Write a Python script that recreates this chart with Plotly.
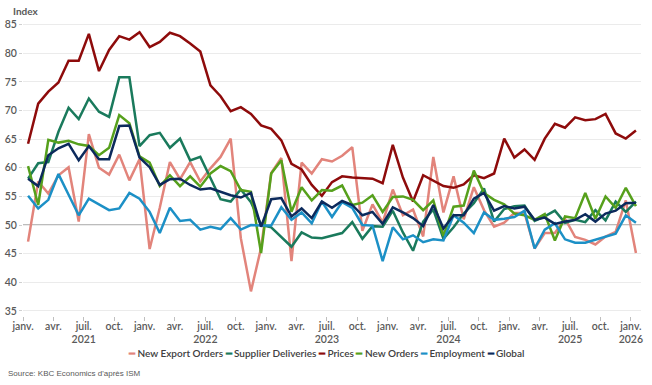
import plotly.graph_objects as go

# ---- data (monthly, janv. 2021 -> janv. 2026) ----
START_YEAR = 2021
N_MONTHS = 61
MONTH_ABBR = ["janv.", "févr.", "mars", "avr.", "mai", "juin",
              "juil.", "août", "sept.", "oct.", "nov.", "déc."]
MONTHS = [f"{MONTH_ABBR[i % 12]} {START_YEAR + i // 12}" for i in range(N_MONTHS)]

new_export_orders = [47.1, 57.6, 55.5, 58.7, 60.1, 50.6, 65.9, 60.0, 58.8, 62.3, 57.8, 61.5,
                     45.8, 53.0, 61.0, 58.0, 61.0, 57.6, 59.9, 61.9, 65.1, 47.7, 38.4, 46.0,
                     59.1, 61.7, 43.7, 60.9, 59.0, 61.5, 61.1, 62.1, 63.6, 49.0, 53.6, 50.4,
                     56.2, 51.7, 52.7, 48.0, 61.9, 52.2, 58.5, 51.0, 56.6, 52.6, 49.7, 50.4,
                     52.1, 52.1, 45.9, 48.6, 48.6, 51.1, 47.9, 47.4, 46.6, 48.0, 48.8, 54.3, 45.1]
supplier_deliveries = [58.1, 60.8, 61.0, 66.3, 70.5, 68.5, 72.1, 69.8, 68.9, 75.8, 75.8, 63.8,
                       65.7, 66.1, 63.5, 65.1, 61.3, 61.9, 58.2, 54.5, 54.1, 56.2, 54.0, 50.0,
                       49.6, 47.9, 46.2, 48.7, 47.8, 47.7, 48.1, 48.6, 50.5, 47.6, 49.8, 49.7,
                       52.5, 48.7, 45.5, 50.6, 52.7, 47.6, 49.6, 52.0, 53.8, 56.4, 50.6, 52.8,
                       53.3, 53.4, 50.7, 51.5, 52.5, 50.4, 50.9, 50.5, 52.6, 50.8, 54.1, 52.3, 54.1]
prices = [64.2, 71.2, 73.3, 74.9, 78.7, 78.7, 83.4, 76.9, 80.6, 83.0, 82.4, 83.7,
          81.1, 82.0, 83.6, 83.0, 81.7, 80.3, 74.4, 72.5, 69.9, 70.6, 69.4, 67.4,
          66.8, 64.8, 60.7, 59.7, 57.0, 55.1, 57.5, 58.5, 58.3, 58.2, 58.1, 57.3,
          64.0, 58.3, 54.1, 58.7, 57.7, 56.8, 56.5, 57.1, 58.7, 58.2, 59.0, 65.1,
          61.8, 63.2, 61.4, 65.1, 67.7, 67.0, 68.8, 68.3, 68.5, 69.4, 66.0, 65.1, 66.5]
new_orders = [60.3, 53.5, 64.9, 64.4, 64.7, 64.1, 63.8, 62.2, 63.5, 69.2, 67.8, 62.0,
              60.9, 56.8, 58.7, 56.8, 58.5, 56.7, 59.0, 60.3, 59.4, 56.1, 55.8, 45.1,
              59.0, 61.3, 52.3, 56.6, 54.3, 56.1, 56.0, 56.9, 53.5, 53.9, 55.2, 52.3,
              54.9, 55.0, 54.4, 52.6, 54.3, 48.1, 53.2, 53.4, 59.5, 55.6, 54.4, 53.6,
              52.0, 51.7, 50.9, 51.9, 47.3, 51.5, 51.2, 55.6, 51.1, 55.0, 53.0, 56.5, 53.3]
employment = [55.1, 52.9, 54.4, 58.9, 55.3, 51.7, 54.6, 53.6, 52.6, 52.9, 55.6, 54.6,
              52.3, 48.6, 53.0, 50.7, 50.9, 49.2, 49.7, 49.3, 51.2, 49.2, 50.0, 49.9,
              49.9, 53.1, 50.9, 52.2, 50.3, 54.1, 51.4, 54.0, 53.0, 50.0, 49.9, 43.7,
              49.6, 47.5, 48.2, 47.0, 47.5, 47.3, 51.7, 50.4, 48.6, 52.2, 50.9, 51.1,
              51.4, 52.5, 45.9, 49.2, 50.3, 47.5, 46.9, 46.9, 47.4, 48.0, 48.5, 51.7, 50.4]
global_index = [58.1, 56.8, 62.2, 63.4, 64.2, 61.3, 63.8, 61.5, 61.5, 67.3, 67.4, 61.8,
                60.1, 57.0, 58.0, 58.1, 57.0, 56.2, 56.4, 55.8, 55.2, 54.8, 55.6, 49.7,
                54.5, 54.7, 51.5, 52.9, 51.2, 54.1, 53.0, 54.2, 53.5, 51.7, 52.3, 50.2,
                53.1, 52.2, 51.2, 49.8, 53.5, 49.4, 51.7, 51.7, 54.6, 55.6, 52.5, 53.3,
                52.9, 53.2, 50.9, 51.3, 50.2, 50.6, 50.9, 51.9, 50.6, 52.0, 52.5, 53.8, 53.9]

SERIES_NAMES = ["New Export Orders", "Supplier Deliveries", "Prices",
                "New Orders", "Employment", "Global"]
SERIES_VALUES = [new_export_orders, supplier_deliveries, prices,
                 new_orders, employment, global_index]
SERIES_COLORS = ["#E2847B", "#1A7A5C", "#8E0B0B", "#56A01C", "#1C90C6", "#0C2A5C"]

NEUTRAL = 50
Y_TICKS = list(range(35, 90, 5))

# x-axis tick labels every 3 months at category boundaries, year under juil. (janv. for 2026)
tick_vals, tick_text = [], []
for i in range(0, N_MONTHS, 3):
    m = i % 12
    year = START_YEAR + i // 12
    label = MONTH_ABBR[m]
    if m == 6 or (i == N_MONTHS - 1):
        label += f"<br>{year}"
    tick_vals.append(i - 0.5)
    tick_text.append(label)

x = list(range(N_MONTHS))

fig = go.Figure()
for name, vals, color in zip(SERIES_NAMES, SERIES_VALUES, SERIES_COLORS):
    fig.add_trace(go.Scatter(
        x=x, y=vals, name=name, mode="lines",
        line=dict(color=color, width=2.5),
        customdata=MONTHS,
        hovertemplate="%{customdata}: %{y}<extra>" + name + "</extra>",
        showlegend=False,
    ))

fig.add_hline(y=NEUTRAL, line=dict(color="#a6a6a6", width=1.3), layer="below")

TICK_FONT = dict(family="Lato, 'Open Sans', sans-serif", size=10.5, color="#595959", weight=600)

fig.update_xaxes(
    range=[-0.5, N_MONTHS - 0.5],
    tickvals=tick_vals, ticktext=tick_text,
    ticks="outside", ticklen=4, tickcolor="#bfbfbf", tickwidth=1,
    showgrid=False, zeroline=False, showline=False,
    tickfont=TICK_FONT, tickangle=0, automargin=False,
    ticklabelstandoff=-4,
)
fig.update_yaxes(
    range=[34.1, 85.3],
    tickvals=Y_TICKS,
    ticks="outside", ticklen=3, tickcolor="#d0d0d0",
    showgrid=True, gridcolor="#ebebeb", gridwidth=1,
    zeroline=False, showline=False,
    tickfont=TICK_FONT, automargin=False,
)

legend_text = "&nbsp;".join(
    f"<span style='color:{c}'>━</span>&nbsp;{n}" for n, c in zip(SERIES_NAMES, SERIES_COLORS)
)

fig.update_layout(
    width=652, height=385,
    margin=dict(l=23, r=11, t=23, b=69, autoexpand=False),
    paper_bgcolor="white", plot_bgcolor="white",
    font=dict(family="Lato, 'Open Sans', sans-serif", color="#404040"),
    annotations=[
        dict(text="<b>Index</b>", xref="paper", yref="paper",
             x=-0.019, y=1.041, xanchor="left", yanchor="middle", showarrow=False,
             font=dict(size=10, color="#595959", family="Lato, sans-serif")),
        dict(text=legend_text, xref="paper", yref="paper",
             x=0.49, y=-0.126, xanchor="center", yanchor="middle", showarrow=False,
             font=dict(size=10, color="#404040", family="Lato, sans-serif", weight=600)),
        dict(text="Source: KBC Economics d'après ISM", xref="paper", yref="paper",
             x=-0.0275, y=-0.195, xanchor="left", yanchor="middle", showarrow=False,
             font=dict(size=8, color="#595959",
                       family="'Liberation Sans Narrow', 'Arial Narrow', sans-serif")),
    ],
)

fig.write_html("out.html", config={"displayModeBar": False},
               post_script="document.body.style.margin='0';")
